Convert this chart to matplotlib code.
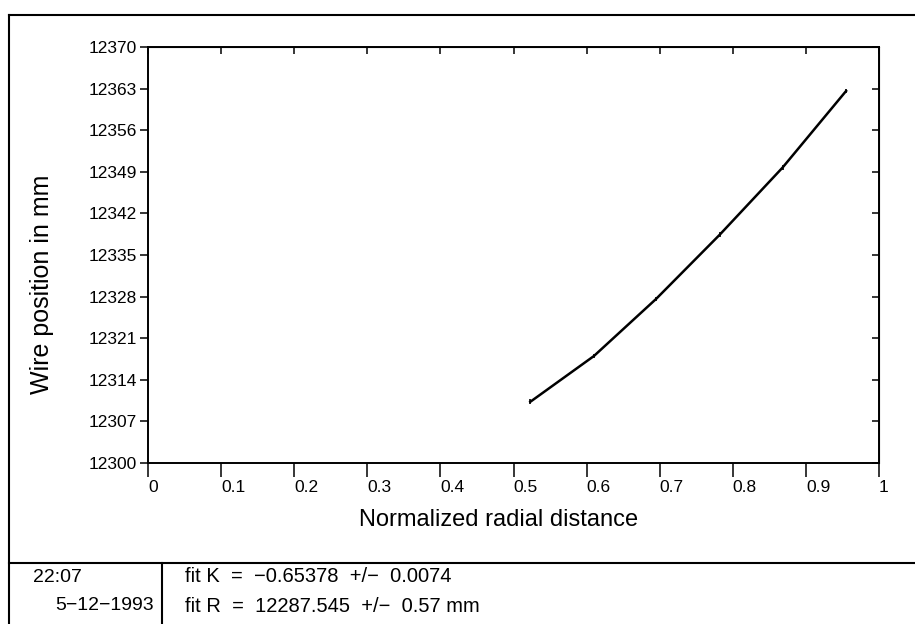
import matplotlib.pyplot as plt
from matplotlib.lines import Line2D

plt.rcParams["font.family"] = ["Liberation Sans", "DejaVu Sans"]

# values
radial = [0.523, 0.610, 0.695, 0.782, 0.868, 0.955]
wire_pos = [12310.3, 12318.0, 12327.6, 12338.4, 12349.7, 12362.6]
wire_err = [0.4, 0.4, 0.4, 0.4, 0.4, 0.4]

x_ticks = [0, 0.1, 0.2, 0.3, 0.4, 0.5, 0.6, 0.7, 0.8, 0.9, 1]
x_labels = ["0", "0.1", "0.2", "0.3", "0.4", "0.5", "0.6", "0.7", "0.8", "0.9", "1"]
y_ticks = [12300, 12307, 12314, 12321, 12328, 12335, 12342, 12349, 12356, 12363, 12370]

time_str = "22:07"
date_str = "5\u221212\u22121993"
fit_k = "fit K  =  \u22120.65378  +/\u2212  0.0074"
fit_r = "fit R  =  12287.545  +/\u2212  0.57 mm"

W, H = 915, 624


def main():
    fig = plt.figure(figsize=(W / 100, H / 100), dpi=100)
    ax = fig.add_axes([148 / W, 1 - 463 / H, 731 / W, 416 / H])

    ax.errorbar(radial, wire_pos, yerr=wire_err, color="black", lw=1.8,
                elinewidth=1.2, capsize=0)

    ax.set_xlim(0, 1)
    ax.set_ylim(12300, 12370)
    ax.set_xticks(x_ticks)
    ax.set_xticklabels(x_labels, ha="left")
    ax.set_yticks(y_ticks)
    ax.tick_params(axis="x", direction="out", length=10, width=1.1, labelsize=12.5, pad=2)
    ax.tick_params(axis="y", direction="out", length=6, width=1.1, labelsize=12.5, pad=2)
    for s in ax.spines.values():
        s.set_linewidth(1.4)

    # inward ticks on the top and right edges, no labels
    top = ax.secondary_xaxis("top")
    top.set_xticks(x_ticks)
    top.set_xticklabels([])
    top.tick_params(direction="in", length=5, width=1.1)
    right = ax.secondary_yaxis("right")
    right.set_yticks(y_ticks)
    right.set_yticklabels([])
    right.tick_params(direction="in", length=5, width=1.1)

    ax.set_xlabel("Normalized radial distance", fontsize=17)
    ax.xaxis.set_label_coords(0.48, -0.11)
    ax.set_ylabel("Wire position in mm", fontsize=18)
    ax.yaxis.set_label_coords(-0.128, 0.43)

    # frame lines of the page
    def fline(x0, y0, x1, y1, lw=1.5):
        fig.add_artist(Line2D([x0 / W, x1 / W], [1 - y0 / H, 1 - y1 / H],
                              color="black", lw=lw))

    fline(9, 15, W, 15)
    fline(9, 15, 9, H)
    fline(9, 563, W, 563)
    fline(162, 563, 162, H)

    fig.text(33 / W, 1 - 577 / H, time_str, fontsize=14, va="center", ha="left")
    fig.text(154 / W, 1 - 606 / H, date_str, fontsize=14, va="center", ha="right")
    fig.text(185 / W, 1 - 577 / H, fit_k, fontsize=14.5, va="center", ha="left")
    fig.text(185 / W, 1 - 606 / H, fit_r, fontsize=14.5, va="center", ha="left")

    fig.savefig("out.png", dpi=100)
    plt.close(fig)


if __name__ == "__main__":
    main()
